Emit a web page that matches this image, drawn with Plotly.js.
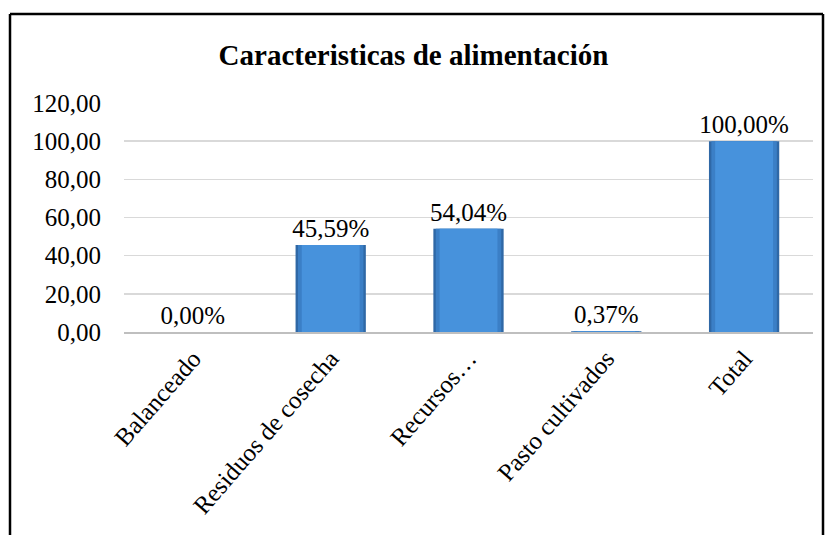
<!DOCTYPE html>
<html>
<head>
<meta charset="utf-8">
<script src="https://cdn.plot.ly/plotly-3.0.1.min.js"></script>
<style>html,body{margin:0;padding:0;background:#fff;}#chart{width:827px;height:535px;}</style>
</head>
<body>
<div id="chart"></div>
<script>
const categories = ["Balanceado", "Residuos de cosecha", "Recursos…", "Pasto cultivados", "Total"];
const values = [0.00, 45.59, 54.04, 0.37, 100.00];
const yTicks = [0, 20, 40, 60, 80, 100, 120];

const serif = "Liberation Serif, Times New Roman, serif";

// outer (darker edge) bar carrying the labels
const outer = {
  type: 'bar',
  x: categories,
  y: values,
  width: 0.51,
  marker: { color: '#2f68a6', line: { width: 0 } },
  texttemplate: '%{y:.2f}%',
  textposition: 'outside',
  constraintext: 'none',
  textfont: { family: serif, size: 25, color: '#000' },
  cliponaxis: false,
  hoverinfo: 'skip'
};
// middle and inner lighter faces of the same bars
const middle = {
  type: 'bar',
  x: categories,
  y: values,
  width: 0.475,
  marker: { color: '#3b7fc6', line: { width: 0 } },
  textposition: 'none',
  hoverinfo: 'skip'
};
const inner = {
  type: 'bar',
  x: categories,
  y: values,
  width: 0.42,
  marker: { color: '#4792dc', line: { width: 0 } },
  textposition: 'none',
  hoverinfo: 'skip'
};

// frame drawn in paper coordinates (plot area: x 124..813, y 103..332)
const px = x => (x - 124) / 689;
const py = y => (332 - y) / 229;

const layout = {
  width: 827, height: 535,
  margin: { l: 124, r: 14, t: 103, b: 203 },
  paper_bgcolor: '#fff', plot_bgcolor: '#fff',
  separators: ',.',
  showlegend: false,
  barmode: 'overlay',
  font: { family: serif, color: '#000' },
  title: {
    text: '<b>Caracteristicas de alimentación</b>',
    font: { family: serif, size: 29, color: '#000' },
    x: 0.5, xanchor: 'center', xref: 'container',
    y: 1 - 55 / 535, yanchor: 'middle', yref: 'container'
  },
  xaxis: {
    type: 'category',
    tickangle: -49,
    tickfont: { family: serif, size: 25, color: '#000' },
    showline: true, linecolor: '#bfbfbf', linewidth: 2,
    ticks: '', showgrid: false, fixedrange: true
  },
  yaxis: {
    range: [0, 120],
    tickvals: yTicks,
    tickformat: '.2f',
    tickfont: { family: serif, size: 25, color: '#000' },
    showgrid: true, gridcolor: '#d9d9d9', gridwidth: 1.5,
    zeroline: false, showline: false, ticks: '',
    ticklabelstandoff: 22, fixedrange: true
  },
  shapes: [
    { type: 'line', xref: 'paper', yref: 'paper', x0: px(10), x1: px(10), y0: py(14), y1: py(545), line: { color: '#000', width: 2.5 } },
    { type: 'line', xref: 'paper', yref: 'paper', x0: px(10), x1: px(823), y0: py(14), y1: py(14), line: { color: '#000', width: 2.5 } },
    { type: 'line', xref: 'paper', yref: 'paper', x0: px(823), x1: px(823), y0: py(14), y1: py(545), line: { color: '#000', width: 2.5 } }
  ]
};

Plotly.newPlot('chart', [outer, middle, inner], layout, { displayModeBar: false, staticPlot: true });
</script>
</body>
</html>
